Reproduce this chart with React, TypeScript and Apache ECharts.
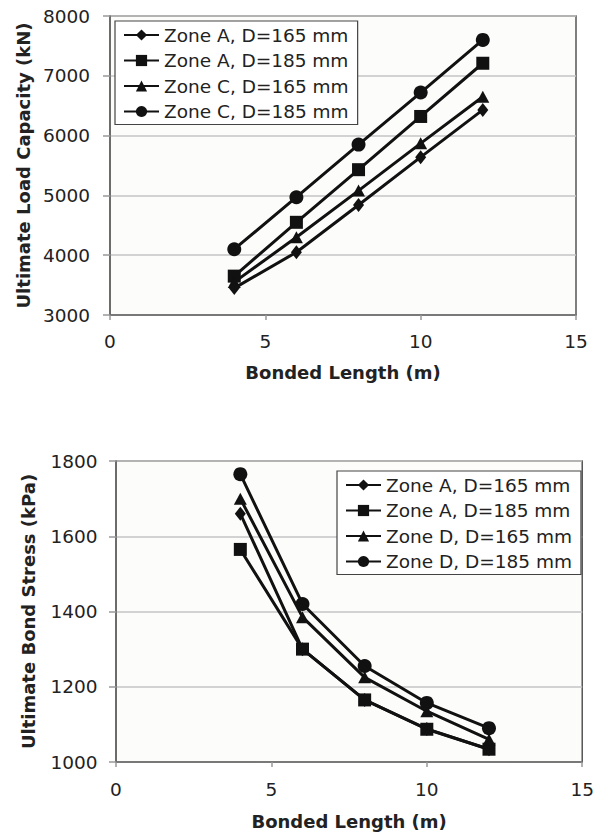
import React, { useEffect, useRef } from "react";
import * as echarts from "echarts";

const bondedLength = [4, 6, 8, 10, 12];

const loadLegend = ["Zone A, D=165 mm", "Zone A, D=185 mm", "Zone C, D=165 mm", "Zone C, D=185 mm"];
const capZoneA165 = [3450, 4050, 4840, 5640, 6430];
const capZoneA185 = [3650, 4550, 5430, 6320, 7210];
const capZoneC165 = [3550, 4300, 5080, 5870, 6650];
const capZoneC185 = [4100, 4970, 5850, 6720, 7600];

const stressLegend = ["Zone A, D=165 mm", "Zone A, D=185 mm", "Zone D, D=165 mm", "Zone D, D=185 mm"];
const stressZoneA165 = [1660, 1300, 1165, 1088, 1034];
const stressZoneA185 = [1565, 1300, 1165, 1087, 1034];
const stressZoneD165 = [1700, 1385, 1225, 1135, 1060];
const stressZoneD185 = [1765, 1420, 1255, 1157, 1090];

const symbols = ["diamond", "rect", "triangle", "circle"];
const symbolSizes: any[] = [[11, 14], 13, [13, 12], 14];

const FONT = "DejaVu Sans";
const TXT = "#222";

function makeSeries(name: string, values: number[], idx: number, gridIdx: number) {
  return {
    type: "line",
    name,
    xAxisIndex: gridIdx,
    yAxisIndex: gridIdx,
    data: bondedLength.map((x, i) => [x, values[i]]),
    symbol: symbols[idx],
    symbolSize: symbolSizes[idx],
    showAllSymbol: true,
    lineStyle: { color: "#111", width: 3 },
    itemStyle: { color: "#111" },
    z: 3,
  };
}

function xAxis(gridIndex: number, labelMargin: number, nameGap: number) {
  return {
    type: "value",
    gridIndex,
    min: 0,
    max: 15,
    interval: 5,
    name: "Bonded Length (m)",
    nameLocation: "middle",
    nameGap,
    nameTextStyle: { fontFamily: FONT, fontSize: 18, fontWeight: "bold", color: TXT },
    axisLine: { show: true, lineStyle: { color: "#666", width: 1.5 } },
    axisTick: { show: true, length: 5, lineStyle: { color: "#999", width: 1.5 } },
    axisLabel: {
      fontFamily: FONT, fontSize: 18.5, color: TXT, margin: labelMargin,
      formatter: (v: number) => String(v),
    },
    splitLine: { show: false },
  };
}

function yAxis(
  gridIndex: number,
  min: number,
  max: number,
  interval: number,
  name: string,
  labelMargin: number,
  nameGap: number
) {
  return {
    type: "value",
    gridIndex,
    min,
    max,
    interval,
    name,
    nameLocation: "middle",
    nameGap,
    nameTextStyle: { fontFamily: FONT, fontSize: 18, fontWeight: "bold", color: TXT },
    axisLine: { show: true, lineStyle: { color: "#666", width: 1.5 } },
    axisTick: { show: true, length: 7, lineStyle: { color: "#999", width: 1.5 } },
    axisLabel: {
      fontFamily: FONT, fontSize: 18.5, color: TXT, margin: labelMargin,
      formatter: (v: number) => String(v),
    },
    splitLine: { show: true, lineStyle: { color: "#c4c4c4", width: 1.5 } },
  };
}

function legend(data: string[], left: number, top: number) {
  return {
    data,
    orient: "vertical",
    left,
    top,
    itemWidth: 35,
    itemHeight: 14,
    itemGap: 5.5,
    padding: [4, 9, 3, 8],
    selectedMode: false,
    backgroundColor: "#ffffff",
    borderColor: "#444",
    borderWidth: 1.2,
    textStyle: { fontFamily: FONT, fontSize: 18.5, color: TXT, lineHeight: 20 },
  };
}

export default function App() {
  const ref = useRef<HTMLDivElement>(null);
  useEffect(() => {
    if (!ref.current) return;
    const chart = echarts.init(ref.current, undefined, { renderer: "svg" });
    chart.setOption({
      animation: false,
      backgroundColor: "#ffffff",
      grid: [
        {
          left: 110, top: 16, width: 466, height: 299,
          show: true, backgroundColor: "#fcfcfa", borderColor: "#555", borderWidth: 1.5,
        },
        {
          left: 116, top: 461, width: 467, height: 301,
          show: true, backgroundColor: "#fcfcfa", borderColor: "#555", borderWidth: 1.5,
        },
      ],
      xAxis: [xAxis(0, 16.5, 48), xAxis(1, 18, 50)],
      yAxis: [
        yAxis(0, 3000, 8000, 1000, "Ultimate Load Capacity (kN)", 20, 76),
        yAxis(1, 1000, 1800, 200, "Ultimate Bond Stress (kPa)", 18.5, 79),
      ],
      legend: [legend(loadLegend, 115, 21), legend(stressLegend, 337, 471)],
      series: [
        makeSeries(loadLegend[0], capZoneA165, 0, 0),
        makeSeries(loadLegend[1], capZoneA185, 1, 0),
        makeSeries(loadLegend[2], capZoneC165, 2, 0),
        makeSeries(loadLegend[3], capZoneC185, 3, 0),
        makeSeries(stressLegend[0], stressZoneA165, 0, 1),
        makeSeries(stressLegend[1], stressZoneA185, 1, 1),
        makeSeries(stressLegend[2], stressZoneD165, 2, 1),
        makeSeries(stressLegend[3], stressZoneD185, 3, 1),
      ],
    });
    return () => chart.dispose();
  }, []);
  return (
    <div
      ref={ref}
      style={{ position: "fixed", left: 0, top: 0, width: 597, height: 837, background: "#fff" }}
    />
  );
}
